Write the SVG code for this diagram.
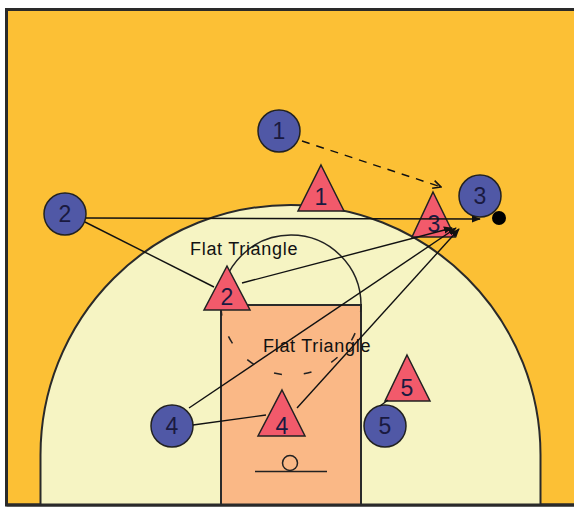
<svg xmlns="http://www.w3.org/2000/svg" width="574" height="509" viewBox="0 0 574 509">
<defs>
<style>
.court{stroke:#2a2a2a;stroke-width:2}
.player circle{fill:#5058a6;stroke:#222;stroke-width:1.5}
.def polygon{fill:#f25a6b;stroke:#222;stroke-width:1.5;stroke-linejoin:miter}
.num{font-family:"Liberation Sans",Arial,sans-serif;font-size:23px;fill:#1a1a40;text-anchor:middle}
.lbl{font-family:"Liberation Sans",Arial,sans-serif;font-size:18px;fill:#111;letter-spacing:0.7px}
.ln{stroke:#111;stroke-width:1.4;fill:none}
</style>
<marker id="ah" viewBox="0 0 10 10" refX="9" refY="5" markerWidth="9" markerHeight="9" markerUnits="userSpaceOnUse" orient="auto">
<path d="M0,1 L10,5 L0,9 Z" fill="#111"/>
</marker>
<marker id="oa" viewBox="0 0 10 10" refX="9" refY="5" markerWidth="10" markerHeight="10" markerUnits="userSpaceOnUse" orient="auto">
<path d="M1,1 L9,5 L1,9" fill="none" stroke="#111" stroke-width="1.6"/>
</marker>
</defs>
<rect x="0" y="0" width="574" height="509" fill="#ffffff"/>
<g id="court">
<rect x="6.5" y="9.5" width="580" height="495.5" fill="#fcc035" stroke="#2a2a2a" stroke-width="3"/>
<path class="court" d="M40.5,505 L40.5,455 A250,250 0 0 1 540.5,455 L540.5,505 Z" fill="#f6f4c3"/>
<rect class="court" x="221" y="305" width="140" height="200" fill="#fab886"/>
<path d="M221,305 A70,70 0 0 1 361,305" fill="none" stroke="#222" stroke-width="1.5"/>
<path d="M221,305 A70,70 0 0 0 361,305" fill="none" stroke="#222" stroke-width="1.5" stroke-dasharray="8 22" stroke-dashoffset="27.4"/>
<circle cx="290" cy="463" r="7.5" fill="none" stroke="#222" stroke-width="1.5"/>
<line x1="255" y1="471.5" x2="327" y2="471.5" stroke="#222" stroke-width="1.6"/>
<line x1="6.5" y1="505" x2="574" y2="505" stroke="#2a2a2a" stroke-width="3"/>
</g>
<g id="o1" class="player"><circle cx="279" cy="131" r="21"/><text class="num" x="279" y="139">1</text></g>
<g id="o2" class="player"><circle cx="65" cy="214" r="21"/><text class="num" x="65" y="222">2</text></g>
<g id="o3" class="player"><circle cx="480" cy="196" r="21"/><text class="num" x="480" y="204">3</text></g>
<g id="o4" class="player"><circle cx="172" cy="426" r="21"/><text class="num" x="172" y="434">4</text></g>
<g id="o5" class="player"><circle cx="385" cy="426" r="21"/><text class="num" x="385" y="434">5</text></g>
<g id="x1" class="def"><polygon points="321,165 344,211 298,211"/><text class="num" x="321" y="205">1</text></g>
<g id="x2" class="def"><polygon points="227,266 250,310 204,310"/><text class="num" x="227" y="305">2</text></g>
<g id="x3" class="def"><polygon points="433,192 455,237 412,237"/><text class="num" x="434" y="232">3</text></g>
<g id="x4" class="def"><polygon points="282,390 305,436 258,436"/><text class="num" x="282" y="434">4</text></g>
<g id="x5" class="def"><polygon points="407,355 430,401 385,401"/><text class="num" x="407" y="396">5</text></g>
<g id="ball"><circle cx="499" cy="218" r="7" fill="#000"/></g>
<g id="connectors">
<line class="ln" x1="302" y1="141" x2="441" y2="187" stroke-dasharray="8 7" marker-end="url(#oa)"/>
<line class="ln" x1="86" y1="218" x2="480" y2="219" marker-end="url(#ah)"/>
<line class="ln" x1="85" y1="222" x2="214" y2="287"/>
<line class="ln" x1="242" y1="283" x2="452" y2="228" marker-end="url(#ah)"/>
<line class="ln" x1="189" y1="408" x2="456" y2="228" marker-end="url(#ah)"/>
<line class="ln" x1="297" y1="408" x2="459" y2="229" marker-end="url(#ah)"/>
<line class="ln" x1="193" y1="425" x2="266" y2="415"/>
<line class="ln" x1="380" y1="406" x2="388" y2="400" stroke-width="3"/>
</g>
<text class="lbl" x="190" y="255">Flat Triangle</text>
<text class="lbl" x="263" y="352">Flat Triangle</text>
</svg>
